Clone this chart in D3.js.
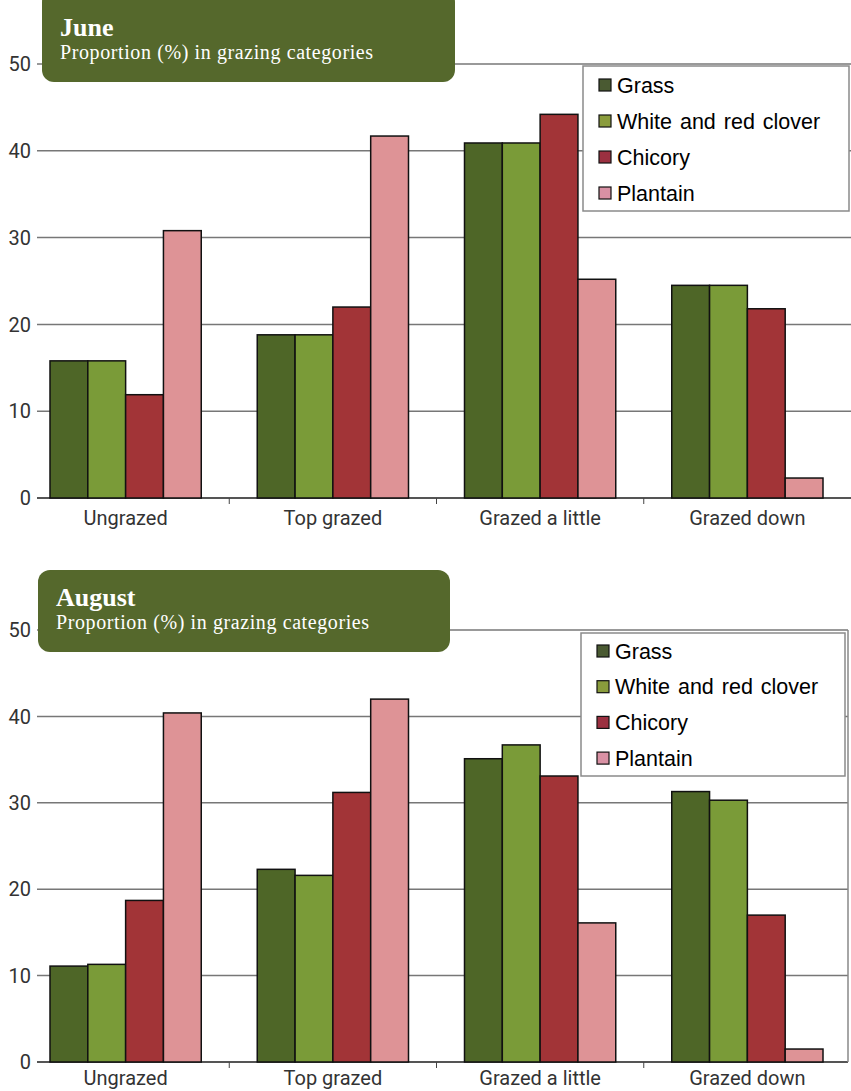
<!doctype html>
<meta charset="utf-8">
<title>Grazing categories</title>
<style>
    body { margin: 0; background: #fff; }
    svg { display: block; }
    .tick-label { font-family: "Liberation Sans Narrow", "Arial Narrow", Roboto, sans-serif; font-size: 20px; fill: #333; }
    .legend text { font-family: "Liberation Sans", Arial, sans-serif; font-size: 21.5px; word-spacing: 2px; fill: #000; }
    .title { font-family: "Liberation Serif", "DejaVu Serif", serif; fill: #fff; }
</style>
<svg width=851 height=1091></svg>
<script src="https://cdn.jsdelivr.net/npm/d3@7"></script>
<script>
    // categories and series
    var categories = ['Ungrazed', 'Top grazed', 'Grazed a little', 'Grazed down'];
    var series = ['Grass', 'White and red clover', 'Chicory', 'Plantain'];
    var yTicks = [0, 10, 20, 30, 40, 50];

    // June values (%), one array per series, in category order
    var juneGrass = [15.8, 18.8, 40.9, 24.5];
    var juneClover = [15.8, 18.8, 40.9, 24.5];
    var juneChicory = [11.9, 22.0, 44.2, 21.8];
    var junePlantain = [30.8, 41.7, 25.2, 2.3];

    // August values (%)
    var augGrass = [11.1, 22.3, 35.1, 31.3];
    var augClover = [11.3, 21.6, 36.7, 30.3];
    var augChicory = [18.7, 31.2, 33.1, 17.0];
    var augPlantain = [40.4, 42.0, 16.1, 1.5];

    var barColors = ['#4e6627', '#7a9b38', '#a23437', '#de9396'];
    var swatchColors = ['#4a5a32', '#8a9c3c', '#9b3040', '#d991a4'];

    var svg = d3.select('svg');

    drawChart({
        month: 'June',
        values: [juneGrass, juneClover, juneChicory, junePlantain],
        top: 64, bottom: 498, labelOffset: 27,
        titleBox: { x: 42, y: -10, w: 413, h: 92 },
        legend: { x: 583, y: 66, w: 266, h: 145, step: 36, first: 19 },
        rightLine: false
    });

    drawChart({
        month: 'August',
        values: [augGrass, augClover, augChicory, augPlantain],
        top: 630, bottom: 1062, labelOffset: 23,
        titleBox: { x: 38, y: 570, w: 412, h: 82 },
        legend: { x: 581, y: 633, w: 264, h: 143, step: 35.7, first: 18 },
        rightLine: true
    });

    function drawChart(cfg) {
        var g = svg.append('g');

        var x = d3.scaleBand().domain(categories).range([22, 851]);
        var xs = d3.scaleBand().domain(series).range([28, x.bandwidth() - 28]).padding(0);
        var y = d3.scaleLinear().domain([0, 50]).range([cfg.bottom, cfg.top]);

        // gridlines
        g.append('g')
            .selectAll('line')
            .data(yTicks)
            .enter()
            .append('line')
            .attr('x1', 37)
            .attr('x2', cfg.rightLine ? 848 : 851)
            .attr('y1', function (d) { return y(d); })
            .attr('y2', function (d) { return y(d); })
            .attr('stroke', function (d) { return d === 0 ? '#555' : '#777'; })
            .attr('stroke-width', function (d) { return d === 0 ? 2 : 1.5; });

        if (cfg.rightLine) {
            g.append('line')
                .attr('x1', 848).attr('x2', 848)
                .attr('y1', y(50)).attr('y2', y(0))
                .attr('stroke', '#888').attr('stroke-width', 1.5);
        }

        // y tick labels
        g.append('g')
            .selectAll('text')
            .data(yTicks)
            .enter()
            .append('text')
            .attr('class', 'tick-label')
            .attr('x', 31)
            .attr('y', function (d) { return y(d); })
            .attr('dy', '0.36em')
            .attr('text-anchor', 'end')
            .text(function (d) { return d; });

        // x category separator ticks
        g.append('g')
            .selectAll('line')
            .data(categories.slice(1))
            .enter()
            .append('line')
            .attr('x1', function (d) { return x(d); })
            .attr('x2', function (d) { return x(d); })
            .attr('y1', y(0))
            .attr('y2', y(0) + 6)
            .attr('stroke', '#444')
            .attr('stroke-width', 1);

        // x labels
        g.append('g')
            .selectAll('text')
            .data(categories)
            .enter()
            .append('text')
            .attr('class', 'tick-label')
            .attr('x', function (d) { return x(d) + x.bandwidth() / 2; })
            .attr('y', y(0) + cfg.labelOffset)
            .attr('text-anchor', 'middle')
            .text(function (d) { return d; });

        // bars
        var rows = [];
        cfg.values.forEach(function (vals, si) {
            vals.forEach(function (v, ci) {
                rows.push({ cat: categories[ci], s: series[si], si: si, v: v });
            });
        });

        g.append('g')
            .selectAll('rect')
            .data(rows)
            .enter()
            .append('rect')
            .attr('x', function (d) { return x(d.cat) + xs(d.s); })
            .attr('y', function (d) { return y(d.v); })
            .attr('width', xs.bandwidth())
            .attr('height', function (d) { return y(0) - y(d.v); })
            .attr('fill', function (d) { return barColors[d.si]; })
            .attr('stroke', '#111')
            .attr('stroke-width', 1.5);

        // legend
        var L = cfg.legend;
        var lg = g.append('g').attr('class', 'legend');
        lg.append('rect')
            .attr('x', L.x).attr('y', L.y)
            .attr('width', L.w).attr('height', L.h)
            .attr('fill', '#fff')
            .attr('stroke', '#8a8a8a')
            .attr('stroke-width', 1.5);
        var item = lg.selectAll('g.item')
            .data(series)
            .enter()
            .append('g')
            .attr('class', 'item')
            .attr('transform', function (d, i) {
                return 'translate(' + (L.x + 16) + ',' + (L.y + L.first + i * L.step) + ')';
            });
        item.append('rect')
            .attr('x', 0).attr('y', -6)
            .attr('width', 12).attr('height', 12)
            .attr('fill', function (d, i) { return swatchColors[i]; })
            .attr('stroke', '#111')
            .attr('stroke-width', 1.2);
        item.append('text')
            .attr('x', 18)
            .attr('dy', '0.36em')
            .text(function (d) { return d; });

        // title box
        var T = cfg.titleBox;
        var tg = g.append('g');
        tg.append('rect')
            .attr('x', T.x).attr('y', T.y)
            .attr('width', T.w).attr('height', T.h)
            .attr('rx', 12).attr('ry', 12)
            .attr('fill', '#55682c');
        tg.append('text')
            .attr('class', 'title')
            .attr('x', T.x + 18)
            .attr('y', T.y + T.h - 46)
            .attr('font-size', 26)
            .attr('font-weight', 'bold')
            .text(cfg.month);
        tg.append('text')
            .attr('class', 'title')
            .attr('x', T.x + 18)
            .attr('y', T.y + T.h - 23)
            .attr('font-size', 20)
            .attr('letter-spacing', 0.6)
            .text('Proportion (%) in grazing categories');
    }
</script>
